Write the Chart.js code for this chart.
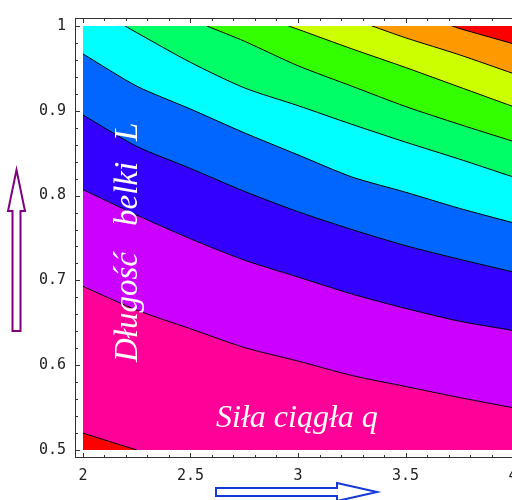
<!DOCTYPE html>
<html>
<head>
<meta charset="utf-8">
<script src="https://cdn.jsdelivr.net/npm/chart.js@4/dist/chart.umd.min.js"></script>
<style>
    html, body { margin: 0; padding: 0; background: #fff; overflow: hidden; }
    #wrap { width: 512px; height: 500px; overflow: hidden; }
</style>
</head>
<body>
<div id="wrap"><canvas id="contour-chart" width="530" height="500"></canvas></div>
<script>
// Tick labels
const qTicks = [2, 2.5, 3, 3.5, 4];
const lTicks = [0.5, 0.6, 0.7, 0.8, 0.9, 1];

// Contour lines, lowest first: [q, L] pairs
const contour1 = [[2, 0.520], [2.251, 0.5]];
const contour2 = [[2, 0.693], [2.25, 0.665], [2.5, 0.643], [2.75, 0.621], [3, 0.605], [3.25, 0.588], [3.5, 0.575], [3.75, 0.562], [4, 0.550]];
const contour3 = [[2, 0.807], [2.25, 0.777], [2.5, 0.749], [2.75, 0.724], [3, 0.704], [3.25, 0.684], [3.5, 0.667], [3.75, 0.652], [4, 0.641]];
const contour4 = [[2, 0.895], [2.25, 0.858], [2.5, 0.832], [2.75, 0.805], [3, 0.781], [3.25, 0.760], [3.5, 0.741], [3.75, 0.725], [4, 0.710]];
const contour5 = [[2, 0.967], [2.25, 0.929], [2.5, 0.902], [2.75, 0.874], [3, 0.848], [3.25, 0.822], [3.5, 0.804], [3.75, 0.785], [4, 0.768]];
const contour6 = [[2.195, 1], [2.25, 0.992], [2.5, 0.957], [2.75, 0.927], [3, 0.906], [3.25, 0.884], [3.5, 0.863], [3.75, 0.843], [4, 0.822]];
const contour7 = [[2.575, 1], [2.75, 0.982], [3, 0.953], [3.25, 0.929], [3.5, 0.905], [3.75, 0.884], [4, 0.864]];
const contour8 = [[2.955, 1], [3, 0.996], [3.25, 0.973], [3.5, 0.951], [3.75, 0.928], [4, 0.905]];
const contour9 = [[3.343, 1], [3.5, 0.986], [3.75, 0.966], [4, 0.944]];
const contour10 = [[3.715, 1], [3.75, 0.997], [4, 0.979]];

// Band colours (Hue), from the bottom-left corner to the top-right corner
const bandColors = ['#FF0000', '#FF0099', '#CC00FF', '#3300FF', '#0066FF', '#00FFFF', '#00FF66', '#33FF00', '#CCFF00', '#FF9900', '#FF0000'];

const contours = [contour1, contour2, contour3, contour4, contour5, contour6, contour7, contour8, contour9, contour10];

/**
 * Clip to the data rectangle and paint the base band
 */
const plotBox = {
    id: 'plotBox',
    beforeDatasetsDraw(chart) {
        const {ctx, scales: {x, y}} = chart;
        const left = x.getPixelForValue(2), right = x.getPixelForValue(4);
        const top = y.getPixelForValue(1), bottom = y.getPixelForValue(0.5);
        ctx.save();
        ctx.beginPath();
        ctx.rect(left, top, right - left, bottom - top);
        ctx.clip();
        ctx.fillStyle = bandColors[1];
        ctx.fillRect(left, top, right - left, bottom - top);
    },
    afterDatasetsDraw(chart) {
        chart.ctx.restore();
    }
};

/**
 * Frame with inward ticks, arrows and white labels
 */
const decorations = {
    id: 'decorations',
    afterDraw(chart) {
        const {ctx, chartArea: a, scales: {x, y}} = chart;
        ctx.save();

        // frame
        ctx.strokeStyle = '#333';
        ctx.lineWidth = 1;
        ctx.strokeRect(a.left + 0.5, a.top + 0.5, a.right - a.left - 1, a.bottom - a.top - 1);

        ctx.beginPath();
        for (let i = 0; i <= 20; i++) {
            const v = 2 + i * 0.1;
            const px = Math.round(x.getPixelForValue(v)) + 0.5;
            const len = i % 5 === 0 ? 5 : 3;
            ctx.moveTo(px, a.bottom);
            ctx.lineTo(px, a.bottom - len);
            ctx.moveTo(px, a.top);
            ctx.lineTo(px, a.top + len);
        }
        for (let i = 0; i <= 25; i++) {
            const v = 0.5 + i * 0.02;
            const py = Math.round(y.getPixelForValue(v)) + 0.5;
            const len = i % 5 === 0 ? 5 : 3;
            ctx.moveTo(a.left, py);
            ctx.lineTo(a.left + len, py);
        }
        ctx.stroke();

        // axis labels inside the plot
        ctx.fillStyle = '#fff';
        ctx.textBaseline = 'alphabetic';
        ctx.textAlign = 'left';
        ctx.font = 'italic 32px "Liberation Serif"';
        ctx.fillText('Siła ciągła q', 216, 427);

        ctx.save();
        ctx.translate(137, 362);
        ctx.rotate(-Math.PI / 2);
        ctx.font = 'italic 33px "Liberation Serif"';
        ctx.fillText('Długość', 0, 0);
        ctx.fillText('belki', 136, 0);
        ctx.fillText('L', 221, 0);
        ctx.restore();

        // purple arrow (up)
        ctx.lineWidth = 2;
        ctx.strokeStyle = '#800080';
        ctx.beginPath();
        ctx.moveTo(12.5, 331);
        ctx.lineTo(12.5, 211);
        ctx.lineTo(8, 211);
        ctx.lineTo(16.5, 170);
        ctx.lineTo(25, 211);
        ctx.lineTo(20.5, 211);
        ctx.lineTo(20.5, 331);
        ctx.closePath();
        ctx.stroke();

        // blue arrow (right)
        ctx.strokeStyle = '#1538d8';
        ctx.beginPath();
        ctx.moveTo(216, 488);
        ctx.lineTo(337, 488);
        ctx.lineTo(337, 483);
        ctx.lineTo(377, 492);
        ctx.lineTo(337, 501);
        ctx.lineTo(337, 496);
        ctx.lineTo(216, 496);
        ctx.closePath();
        ctx.stroke();

        ctx.restore();
    }
};

const datasets = contours.map(function(points, i) {
    return {
        data: points.map(p => ({x: p[0], y: p[1]})),
        borderColor: '#000',
        borderWidth: 1,
        backgroundColor: i === 0 ? bandColors[0] : bandColors[i + 1],
        fill: i === 0 ? 'start' : 'end',
        pointRadius: 0,
        tension: 0.25,
        order: contours.length - i
    };
});

const ctx = document.getElementById('contour-chart').getContext('2d');

new Chart(ctx, {
    type: 'line',
    data: { datasets: datasets },
    options: {
        responsive: false,
        animation: false,
        layout: { padding: { left: 0, top: 12, right: 9, bottom: 0 } },
        plugins: {
            legend: { display: false },
            tooltip: { enabled: false }
        },
        scales: {
            x: {
                type: 'linear',
                min: 1.9628,
                max: 4.0372,
                grid: { display: false, drawTicks: false },
                border: { display: false },
                afterBuildTicks: scale => { scale.ticks = qTicks.map(v => ({value: v})); },
                afterFit: scale => { scale.height = 42; },
                ticks: {
                    autoSkip: false,
                    maxRotation: 0,
                    padding: 9,
                    color: '#222',
                    font: { family: 'DejaVu Sans Mono', size: 15 },
                    callback: v => String(v)
                }
            },
            y: {
                type: 'linear',
                min: 0.4907,
                max: 1.0093,
                grid: { display: false, drawTicks: false },
                border: { display: false },
                afterBuildTicks: scale => { scale.ticks = lTicks.map(v => ({value: v})); },
                afterFit: scale => { scale.width = 75; },
                ticks: {
                    autoSkip: false,
                    padding: 9,
                    color: '#222',
                    font: { family: 'DejaVu Sans Mono', size: 15 },
                    callback: v => String(v)
                }
            }
        }
    },
    plugins: [plotBox, decorations]
});
</script>
</body>
</html>
